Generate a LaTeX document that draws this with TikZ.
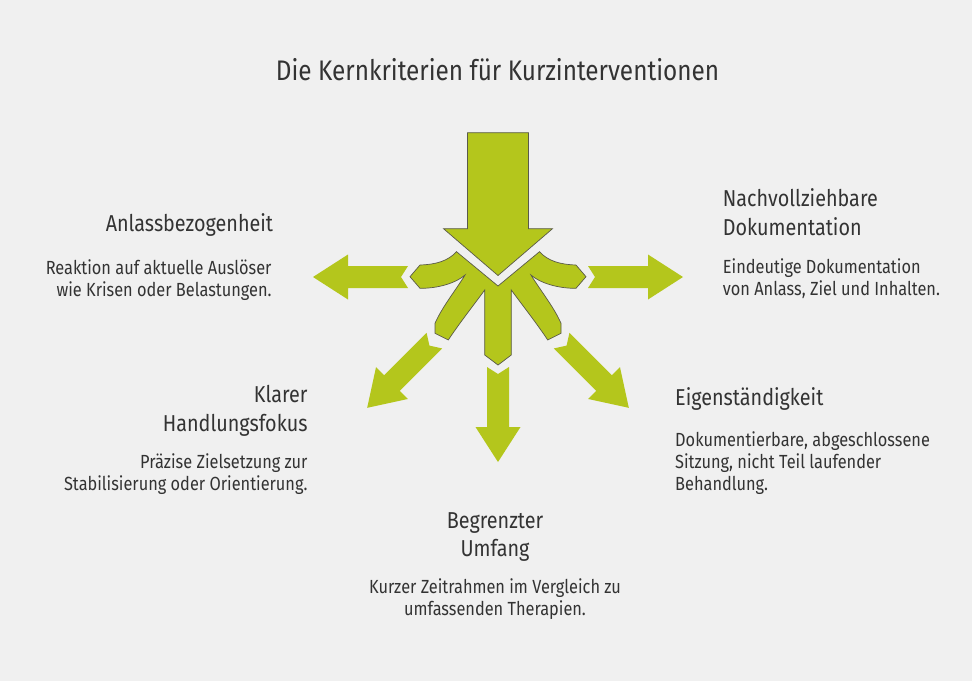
\documentclass[tikz,border=0pt]{standalone}
\usepackage{fontspec}
\setmainfont{Fira Sans}[FakeStretch=0.86]
\usetikzlibrary{positioning}
\definecolor{bgcolour}{HTML}{F0F0F0}
\definecolor{arrowcolour}{HTML}{B4C61C}
\definecolor{edgecolour}{HTML}{5A5A4A}
\definecolor{textcolour}{HTML}{333333}

\begin{document}
\begin{tikzpicture}[
  x=1pt, y=-1pt,
  title/.style = {inner sep=0, text=textcolour, font=\fontsize{28.3}{33}\selectfont},
  heading/.style = {inner sep=0, text=textcolour, font=\fontsize{23}{28.5}\selectfont},
  desc/.style = {inner sep=0, text=textcolour, font=\fontsize{19}{22}\selectfont},
  outarrow/.style = {fill=arrowcolour},
  splitarrow/.style = {fill=arrowcolour, draw=edgecolour, line width=.7pt}
  ]
  \fill[bgcolour] (0,0) rectangle (972,681);
  \useasboundingbox (0,0) rectangle (972,681);

  \coordinate (hub) at (498,277);

  \draw[splitarrow] (467.5,132.7) -- (528.5,132.7) -- (528.5,228.7) -- (552.5,228.7) -- (498,275.5) -- (443.5,228.7) -- (467.5,228.7) -- cycle;

  \draw[splitarrow, shift={(hub)}] (-41.5,-25.3) .. controls (-50,-16) and (-62,-12.5) .. (-78,-12) -- (-88,-0.3) -- (-78,11.3)
    .. controls (-60,11.5) and (-42,6) .. (-33,-2)
    .. controls (-40,10) and (-56,30) .. (-63,46.3) -- (-63,56.3) -- (-49.7,63)
    .. controls (-40,48) and (-22,25) .. (-13.3,13) -- (-13.3,78) -- (0,88) -- (13.3,78) -- (13.3,13)
    .. controls (22,25) and (40,48) .. (49.7,63) -- (63,56.3) -- (63,46.3)
    .. controls (56,30) and (40,10) .. (33,-2)
    .. controls (42,6) and (60,11.5) .. (78,11.3) -- (88,-0.3) -- (78,-12)
    .. controls (62,-12.5) and (50,-16) .. (41.5,-25.3) -- (0,9) -- cycle;

  \foreach \ang in {0,45,90,135,180}
    \fill[outarrow, shift={(hub)}, rotate=-\ang] (90,-11) -- (150,-11) -- (150,-22.5) -- (185,0) -- (150,22.5) -- (150,11) -- (90,11) -- (97,0) -- cycle;

  \node[title, anchor=base] (title) at (497.5,80) {Die Kernkriterien für Kurzinterventionen};

  \node[heading, anchor=base east] (anlass) at (273.3,231.7) {Anlassbezogenheit};
  \node[desc, anchor=base east, align=right] (anlass_txt) at (271.7,296.7) {Reaktion auf aktuelle Auslöser\\wie Krisen oder Belastungen.};

  \node[heading, anchor=base west, align=left] (doku) at (722.7,235) {Nachvollziehbare\\Dokumentation};
  \node[desc, anchor=base west, align=left] (doku_txt) at (722.7,295) {Eindeutige Dokumentation\\von Anlass, Ziel und Inhalten.};

  \node[heading, anchor=base east, align=right] (fokus) at (307.7,431) {Klarer\\Handlungsfokus};
  \node[desc, anchor=base east, align=right] (fokus_txt) at (307.7,490) {Präzise Zielsetzung zur\\Stabilisierung oder Orientierung.};

  \node[heading, anchor=base west] (eigen) at (675,405) {Eigenständigkeit};
  \node[desc, anchor=base west, align=left] (eigen_txt) at (675,490) {Dokumentierbare, abgeschlossene\\Sitzung, nicht Teil laufender\\Behandlung.};

  \node[heading, anchor=base, align=center] (umfang) at (495,556.7) {Begrenzter\\Umfang};
  \node[desc, anchor=base, align=center] (umfang_txt) at (495,615) {Kurzer Zeitrahmen im Vergleich zu\\umfassenden Therapien.};

\end{tikzpicture}
\end{document}
